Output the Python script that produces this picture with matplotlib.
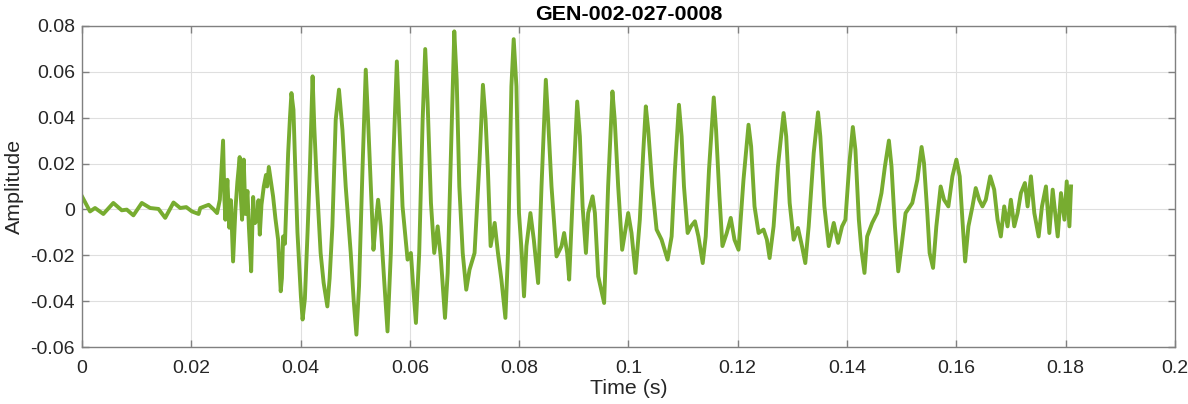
import numpy as np
import matplotlib
matplotlib.use("Agg")
import matplotlib.pyplot as plt

tiempo = [
    0.00000, 0.00147, 0.00239, 0.00391, 0.00574, 0.00728, 0.00820, 0.00941,
    0.01095, 0.01248, 0.01400, 0.01523, 0.01675, 0.01798, 0.01908, 0.02013,
    0.02134, 0.02165, 0.02318, 0.02409, 0.02472,
    0.02523, 0.02582, 0.02606, 0.02624, 0.02661, 0.02697, 0.02725, 0.02765,
    0.02808, 0.02844, 0.02886, 0.02908, 0.02930, 0.02960, 0.02991, 0.03028,
    0.03055, 0.03096, 0.03132, 0.03165, 0.03206, 0.03230, 0.03254, 0.03285,
    0.03327, 0.03367, 0.03389, 0.03419, 0.03497, 0.03540, 0.03589, 0.03637,
    0.03659, 0.03681, 0.03714, 0.03773, 0.03806, 0.03833, 0.03870, 0.03894,
    0.03943, 0.04006, 0.04037, 0.04079, 0.04128, 0.04170, 0.04220, 0.04251,
    0.04294, 0.04367, 0.04422, 0.04490, 0.04532, 0.04582, 0.04643, 0.04703,
    0.04766, 0.04826, 0.04918, 0.04973, 0.05022, 0.05070, 0.05133, 0.05193,
    0.05235, 0.05285, 0.05334, 0.05376, 0.05419, 0.05468, 0.05529, 0.05591,
    0.05652, 0.05701, 0.05762, 0.05804, 0.05866, 0.05958, 0.06019, 0.06065,
    0.06111, 0.06171, 0.06234, 0.06281, 0.06325, 0.06386, 0.06446, 0.06509,
    0.06569, 0.06643, 0.06692, 0.06753, 0.06813, 0.06857, 0.06905, 0.06967,
    0.07032, 0.07092, 0.07184, 0.07276, 0.07337, 0.07386, 0.07428, 0.07478,
    0.07552, 0.07612, 0.07675, 0.07748, 0.07796, 0.07858, 0.07900, 0.07950,
    0.07997, 0.08047, 0.08089, 0.08133, 0.08206, 0.08268, 0.08347, 0.08409,
    0.08488, 0.08530, 0.08592, 0.08684, 0.08776, 0.08823, 0.08878, 0.08915,
    0.08988, 0.09062, 0.09111, 0.09161, 0.09222, 0.09263, 0.09344, 0.09386,
    0.09447, 0.09555, 0.09628, 0.09707, 0.09749, 0.09812, 0.09885, 0.09995,
    0.10056, 0.10129, 0.10208, 0.10270, 0.10318, 0.10362, 0.10436, 0.10515,
    0.10606, 0.10716, 0.10790, 0.10850, 0.10924, 0.10973, 0.11016, 0.11083,
    0.11144, 0.11217, 0.11280, 0.11359, 0.11414, 0.11474, 0.11561, 0.11603,
    0.11665, 0.11720, 0.11799, 0.11872, 0.11940, 0.12014, 0.12105, 0.12197,
    0.12245, 0.12307, 0.12381, 0.12472, 0.12533, 0.12583, 0.12656, 0.12735,
    0.12839, 0.12887, 0.12950, 0.13023, 0.13102, 0.13175, 0.13236, 0.13298,
    0.13390, 0.13469, 0.13511, 0.13585, 0.13665, 0.13757, 0.13836, 0.13909,
    0.13970, 0.14043, 0.14106, 0.14153, 0.14216, 0.14263, 0.14319, 0.14368,
    0.14460, 0.14552, 0.14630, 0.14693, 0.14766, 0.14814, 0.14876, 0.14937,
    0.14997, 0.15071, 0.15194, 0.15286, 0.15364, 0.15408, 0.15469, 0.15511,
    0.15574, 0.15634, 0.15713, 0.15775, 0.15854, 0.15928, 0.16001, 0.16062,
    0.16111, 0.16161, 0.16221, 0.16295, 0.16355, 0.16418, 0.16478, 0.16539,
    0.16620, 0.16693, 0.16754, 0.16814, 0.16876, 0.16937, 0.16998, 0.17060,
    0.17121, 0.17181, 0.17255, 0.17304, 0.17365, 0.17427, 0.17506, 0.17567,
    0.17640, 0.17702, 0.17763, 0.17855, 0.17915, 0.17978, 0.18020, 0.18069,
    0.18099,
]

amplitud = [
    0.0057, -0.0009, 0.0006, -0.0020, 0.0028, -0.0004, -0.0001, -0.0026,
    0.0028, 0.0006, 0.0002, -0.0037, 0.0030, 0.0006, 0.0010, -0.0009,
    -0.0020, 0.0006, 0.0020, 0.0000, -0.0016,
    0.0042, 0.0300, 0.0050, -0.0045, 0.0129, -0.0080, 0.0040, -0.0227,
    0.0000, 0.0120, 0.0228, 0.0050, -0.0045, 0.0217, -0.0020, 0.0080,
    -0.0080, -0.0270, 0.0054, -0.0060, -0.0045, 0.0040, -0.0110, 0.0020,
    0.0100, 0.0150, 0.0100, 0.0185, 0.0057, -0.0040, -0.0132, -0.0357,
    -0.0300, -0.0118, -0.0150, 0.0246, 0.0400, 0.0507, 0.0434, 0.0246,
    -0.0100, -0.0379, -0.0480, -0.0390, -0.0100, 0.0173, 0.0580, 0.0360,
    0.0130, -0.0190, -0.0320, -0.0423, -0.0300, -0.0074, 0.0390, 0.0522,
    0.0347, 0.0100, -0.0190, -0.0400, -0.0546, -0.0335, 0.0173, 0.0609,
    0.0390, 0.0100, -0.0176, -0.0059, 0.0042, -0.0074, -0.0306, -0.0532,
    -0.0190, 0.0246, 0.0645, 0.0390, 0.0013, -0.0219, -0.0190, -0.0350,
    -0.0495, -0.0190, 0.0390, 0.0699, 0.0464, 0.0028, -0.0190, -0.0074,
    -0.0219, -0.0473, -0.0277, 0.0246, 0.0776, 0.0565, 0.0100, -0.0190,
    -0.0350, -0.0263, -0.0190, 0.0217, 0.0543, 0.0390, 0.0173, -0.0160,
    -0.0059, -0.0190, -0.0306, -0.0473, -0.0190, 0.0536, 0.0742, 0.0536,
    -0.0016, -0.0190, -0.0379, -0.0160, -0.0016, -0.0132, -0.0321, 0.0100,
    0.0565, 0.0390, 0.0100, -0.0205, -0.0160, -0.0103, -0.0190, -0.0306,
    0.0100, 0.0470, 0.0318, 0.0013, -0.0190, -0.0016, 0.0057, -0.0016,
    -0.0292, -0.0408, 0.0100, 0.0514, 0.0390, 0.0100, -0.0176, -0.0016,
    -0.0103, -0.0277, -0.0045, 0.0246, 0.0449, 0.0347, 0.0100, -0.0088,
    -0.0132, -0.0219, -0.0118, 0.0173, 0.0456, 0.0318, 0.0100, -0.0103,
    -0.0074, -0.0052, -0.0118, -0.0234, -0.0118, 0.0173, 0.0488, 0.0347,
    0.0057, -0.0160, -0.0103, -0.0037, -0.0132, -0.0176, 0.0129, 0.0369,
    0.0274, 0.0013, -0.0103, -0.0088, -0.0132, -0.0212, -0.0074, 0.0187,
    0.0420, 0.0318, 0.0028, -0.0132, -0.0081, -0.0160, -0.0234, -0.0074,
    0.0246, 0.0423, 0.0318, 0.0013, -0.0160, -0.0059, -0.0146, -0.0074,
    -0.0045, 0.0202, 0.0359, 0.0260, -0.0045, -0.0176, -0.0277, -0.0118,
    -0.0059, -0.0016, 0.0071, 0.0187, 0.0300, 0.0187, -0.0074, -0.0270,
    -0.0160, -0.0016, 0.0028, 0.0129, 0.0272, 0.0202, -0.0016, -0.0190,
    -0.0255, -0.0074, 0.0100, 0.0042, 0.0013, 0.0144, 0.0217, 0.0144,
    -0.0045, -0.0227, -0.0074, 0.0013, 0.0093, 0.0042, 0.0013, 0.0042,
    0.0144, 0.0086, -0.0045, -0.0118, 0.0013, -0.0074, 0.0042, -0.0074,
    -0.0016, 0.0071, 0.0115, 0.0013, 0.0144, -0.0016, -0.0118, 0.0013,
    0.0100, -0.0103, 0.0086, -0.0118, 0.0071, -0.0045, 0.0122, -0.0074,
    0.0100,
]

titulo = "GEN-002-027-0008"
xticks = [0, 0.02, 0.04, 0.06, 0.08, 0.1, 0.12, 0.14, 0.16, 0.18, 0.2]
xtick_labels = ["0", "0.02", "0.04", "0.06", "0.08", "0.1", "0.12", "0.14", "0.16", "0.18", "0.2"]
yticks = [-0.06, -0.04, -0.02, 0, 0.02, 0.04, 0.06, 0.08]
ytick_labels = ["-0.06", "-0.04", "-0.02", "0", "0.02", "0.04", "0.06", "0.08"]

plt.rcParams['font.family'] = ['Liberation Sans', 'DejaVu Sans']
plt.rcParams['axes.unicode_minus'] = False

fig = plt.figure(figsize=(11.88, 4.04), dpi=100)
ax = fig.add_axes([0.069, 0.141, 0.920, 0.795])

ax.plot(tiempo, amplitud, color='#77AC30', linewidth=2.8)

ax.set_xlim(0, 0.2)
ax.set_ylim(-0.06, 0.08)
ax.set_xticks(xticks)
ax.set_xticklabels(xtick_labels)
ax.set_yticks(yticks)
ax.set_yticklabels(ytick_labels)

ax.grid(True, color='#dfdfdf', linewidth=0.8)
ax.set_axisbelow(True)
for s in ax.spines.values():
    s.set_color('#808080')
    s.set_linewidth(1.0)
ax.tick_params(direction='in', length=5, width=1, color='#808080',
               labelsize=14, labelcolor='#262626', top=True, right=True)
ax.tick_params(axis='x', pad=9.5)
ax.tick_params(axis='y', pad=5)

ax.set_xlabel("Time (s)", fontsize=15.4, color='#262626', labelpad=1)
ax.set_ylabel("Amplitude", fontsize=15.4, color='#262626', labelpad=5)
ax.set_title(titulo, fontsize=15.4, fontweight='bold', color='#000000', pad=4)

fig.savefig("out.png", dpi=100)
